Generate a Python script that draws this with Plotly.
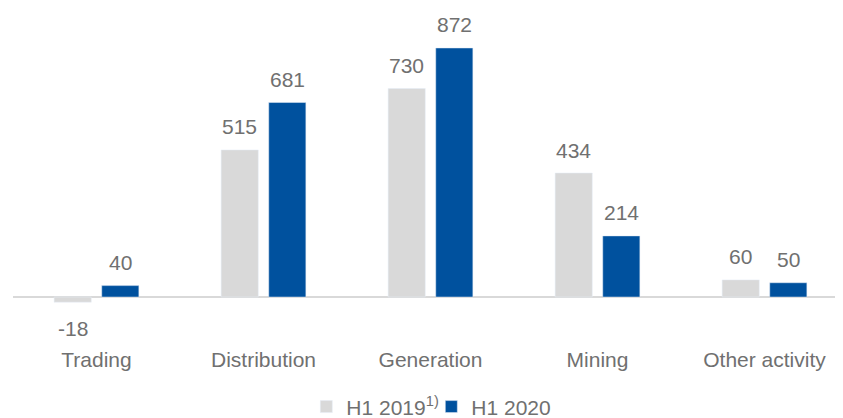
import plotly.graph_objects as go

categories = ["Trading", "Distribution", "Generation", "Mining", "Other activity"]
h1_2019 = [-18, 515, 730, 434, 60]
h1_2020 = [40, 681, 872, 214, 50]

GREY = "#D9D9D9"
BLUE = "#00519E"
TEXT = "#707070"
FONT = "Arial, Liberation Sans, sans-serif"

fig = go.Figure()
fig.add_trace(go.Bar(
    x=categories, y=h1_2019,
    name="H1 2019<sup>1)</sup>",
    marker_color=GREY,
))
fig.add_trace(go.Bar(
    x=categories, y=h1_2020,
    name="H1 2020",
    marker_color=BLUE,
))

# value labels, shifted to sit over each bar of the group
for vals, dx in [(h1_2019, -24), (h1_2020, 24)]:
    for cat, v in zip(categories, vals):
        fig.add_annotation(
            x=cat, y=v, text=str(v), showarrow=False,
            xshift=dx, yshift=23 if v >= 0 else -26,
            yanchor="middle",
            font=dict(size=21, color=TEXT, family=FONT),
        )

# page body has an 8px margin, so the figure is drawn 8px smaller
fig.update_layout(
    width=835, height=410,
    barmode="group",
    bargap=0.43,
    bargroupgap=0.22,
    plot_bgcolor="white",
    paper_bgcolor="white",
    margin=dict(l=5, r=0, t=2, b=73),
    font=dict(family=FONT, size=21, color=TEXT),
    xaxis=dict(
        range=[-0.5, 4.47],
        showline=False, showgrid=False, ticks="",
        tickfont=dict(size=21, color=TEXT),
    ),
    yaxis=dict(
        range=[-168, 1005],
        showgrid=False, showticklabels=False, ticks="",
        zeroline=True, zerolinecolor=GREY, zerolinewidth=2,
    ),
    showlegend=True,
    legend=dict(
        orientation="h",
        x=0.504, xanchor="center",
        y=0.027, yanchor="middle", yref="container",
        font=dict(size=21, color=TEXT),
        itemwidth=30,
        entrywidth=80, entrywidthmode="pixels",
        traceorder="normal",
    ),
)

fig.write_html("out.html")
